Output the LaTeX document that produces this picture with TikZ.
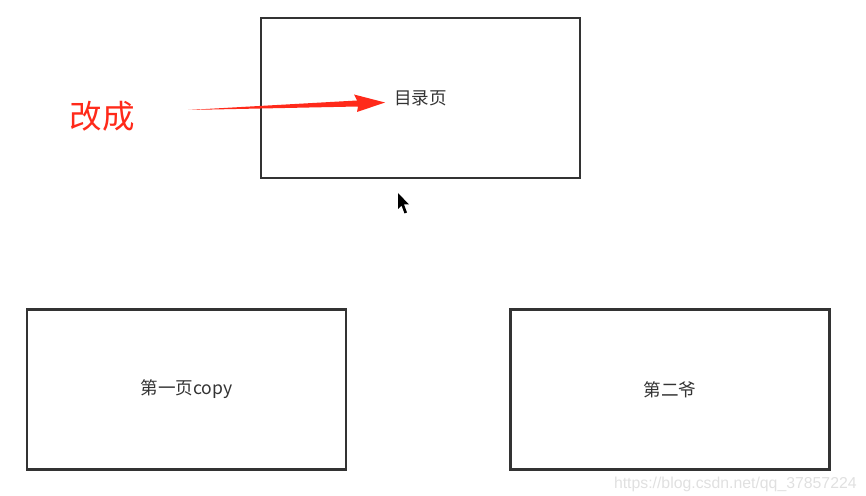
\documentclass[tikz,border=0pt]{standalone}
\usepackage{fontspec}
\setmainfont{Liberation Sans}
\newfontfamily\cjk{Noto Sans CJK SC}
\usetikzlibrary{positioning,arrows.meta}

\definecolor{boxline}{HTML}{333333}
\definecolor{markred}{HTML}{FF2A1A}

\begin{document}
\begin{tikzpicture}[x=0.02cm,y=-0.02cm,
    pagebox/.style={
        draw=boxline,
        line width=1.4pt,
        minimum width=6.38cm,
        minimum height=3.2cm,
        inner sep=0pt,
        font=\cjk\fontsize{10}{12}\selectfont,
        text=black!80
        },
    note/.style={
        text=markred,
        inner sep=0pt,
        font=\cjk\fontsize{18.5}{20}\selectfont
        },
    watermark/.style={
        text=black!12,
        inner sep=0pt,
        font=\fontsize{9}{10}\selectfont
        }
]
\useasboundingbox (0,0) rectangle (866,496);

\node[pagebox] (menu) at (420.5,98) {目录页};
\node[pagebox] (first) at (186.5,389.5) {第一页copy};
\node[pagebox] (second) at (670,389.5) {第二爷};

\node[note] (change) at (102.5,116) {改成};

% red arrow pointing at the menu page title
\coordinate (tail) at (188,110);
\coordinate (tip) at (385,102.5);
\fill[markred] (tail) -- (357,100.5) -- (354,94.5) -- (tip) -- (357,112) -- (358,106.5) -- cycle;

% mouse pointer
\fill[black] (398,193) -- (398,209) -- (401.5,205.5) -- (404.5,213.5) -- (407,212.5) -- (404,204.5) -- (409,204.5) -- cycle;

\node[watermark, anchor=east] (source) at (857,484) {https://blog.csdn.net/qq\_37857224};

\end{tikzpicture}
\end{document}
